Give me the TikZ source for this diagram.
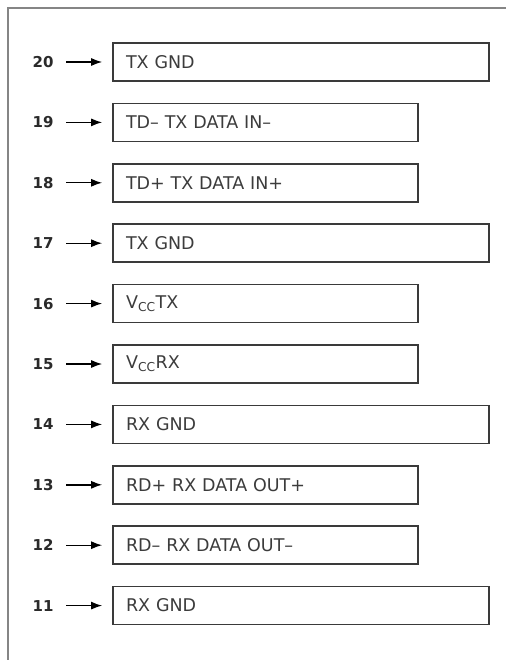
\documentclass[tikz,border=0pt]{standalone}
\usepackage{fontspec}
\setmainfont{DejaVu Sans}
\usepackage{xcolor}
\usepackage{tikz}
\usetikzlibrary{arrows.meta, positioning}

\definecolor{boxline}{HTML}{3A3A3A}
\definecolor{boxtext}{HTML}{3C3C3C}
\definecolor{pintext}{HTML}{2A2A2A}
\definecolor{frameline}{HTML}{858585}

\begin{document}
\begin{tikzpicture}[
  x=1pt, y=1pt,
  node distance=22pt and 58pt,
  pin/.style={font=\fontsize{15}{15}\selectfont\bfseries, text=pintext, minimum width=22pt, minimum height=38pt, inner sep=0pt},
  longbox/.style={draw=boxline, line width=1.7pt, fill=white, anchor=west, minimum height=38pt, inner xsep=13pt, inner ysep=0pt, text width=350pt, align=left, font=\fontsize{17.5}{18}\selectfont, text=boxtext},
  shortbox/.style={longbox, text width=279pt},
  arrow/.style={-{Latex[length=11pt, width=8pt]}, line width=1.4pt, draw=black, shorten <=12pt, shorten >=10pt}
]
\useasboundingbox (0,0) rectangle (506,-660);
\fill[white] (0,0) rectangle (506,-660);

% frame (left and top edges only)
\draw[frameline, line width=2.2pt] (8,-660) -- (8,-8) -- (506,-8);

% pin numbers
\node[pin] (n20) at (43,-62) {20};
\node[pin, below=of n20] (n19) {19};
\node[pin, below=of n19] (n18) {18};
\node[pin, below=of n18] (n17) {17};
\node[pin, below=of n17] (n16) {16};
\node[pin, below=of n16] (n15) {15};
\node[pin, below=of n15] (n14) {14};
\node[pin, below=of n14] (n13) {13};
\node[pin, below=of n13] (n12) {12};
\node[pin, below=of n12] (n11) {11};

% signal boxes
\node[longbox, right=of n20] (b20) {TX GND};
\node[shortbox, right=of n19] (b19) {TD-- TX DATA IN--};
\node[shortbox, right=of n18] (b18) {TD+ TX DATA IN+};
\node[longbox, right=of n17] (b17) {TX GND};
\node[shortbox, right=of n16] (b16) {V\textsubscript{CC}TX};
\node[shortbox, right=of n15] (b15) {V\textsubscript{CC}RX};
\node[longbox, right=of n14] (b14) {RX GND};
\node[shortbox, right=of n13] (b13) {RD+ RX DATA OUT+};
\node[shortbox, right=of n12] (b12) {RD-- RX DATA OUT--};
\node[longbox, right=of n11] (b11) {RX GND};

\draw[arrow] (n20) -- (b20);
\draw[arrow] (n19) -- (b19);
\draw[arrow] (n18) -- (b18);
\draw[arrow] (n17) -- (b17);
\draw[arrow] (n16) -- (b16);
\draw[arrow] (n15) -- (b15);
\draw[arrow] (n14) -- (b14);
\draw[arrow] (n13) -- (b13);
\draw[arrow] (n12) -- (b12);
\draw[arrow] (n11) -- (b11);
\end{tikzpicture}
\end{document}
